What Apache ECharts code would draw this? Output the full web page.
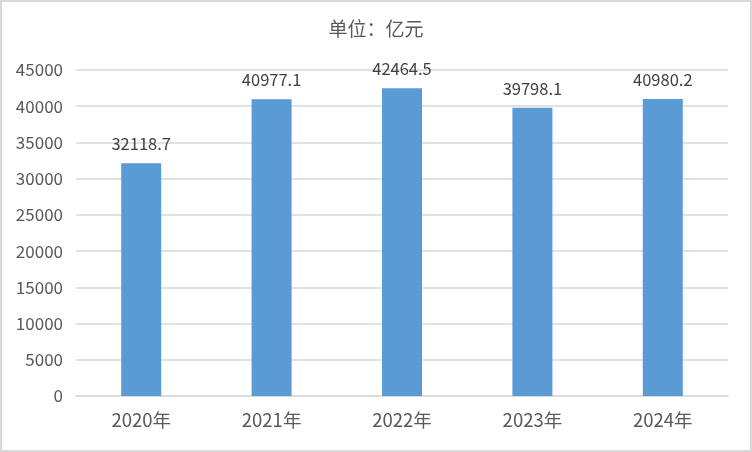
<!DOCTYPE html>
<html><head><meta charset="utf-8">
<script src="https://cdn.jsdelivr.net/npm/echarts@6/dist/echarts.min.js"></script>
<style>html,body{margin:0;padding:0;background:#fff}#c{width:752px;height:452px;box-sizing:border-box;border:2px solid #d9d9d9}</style>
</head><body><div id="c"></div>
<script>
const categories = ['2020年','2021年','2022年','2023年','2024年'];
const values = [32118.7, 40977.1, 42464.5, 39798.1, 40980.2];
const titleText = '单位：亿元';
const chart = echarts.init(document.getElementById('c'));
const font = '"Noto Sans CJK SC", "Noto Sans", sans-serif';
chart.setOption({
  animation: false,
  title: { text: titleText, left: 'center', top: 12, textStyle: { color: '#595959', fontSize: 19, fontWeight: 'normal', fontFamily: font } },
  grid: { left: 74, right: 22, top: 68, bottom: 54 },
  xAxis: { type: 'category', data: categories,
    axisLine: { lineStyle: { color: '#d9d9d9', width: 1.5 } }, axisTick: { show: false },
    axisLabel: { color: '#595959', fontSize: 18.5, fontFamily: font, margin: 15 } },
  yAxis: { type: 'value', min: 0, max: 45000, interval: 5000,
    axisLine: { show: false }, axisTick: { show: false },
    splitLine: { lineStyle: { color: '#d9d9d9', width: 1.5 } },
    axisLabel: { color: '#595959', fontSize: 17, fontFamily: font, margin: 13, formatter: v => String(v) } },
  series: [{ type: 'bar', data: values, barWidth: 40, itemStyle: { color: '#5b9bd5' },
    label: { show: true, position: 'top', distance: 11, color: '#404040', fontSize: 16.5, fontFamily: font } }]
});
</script></body></html>
